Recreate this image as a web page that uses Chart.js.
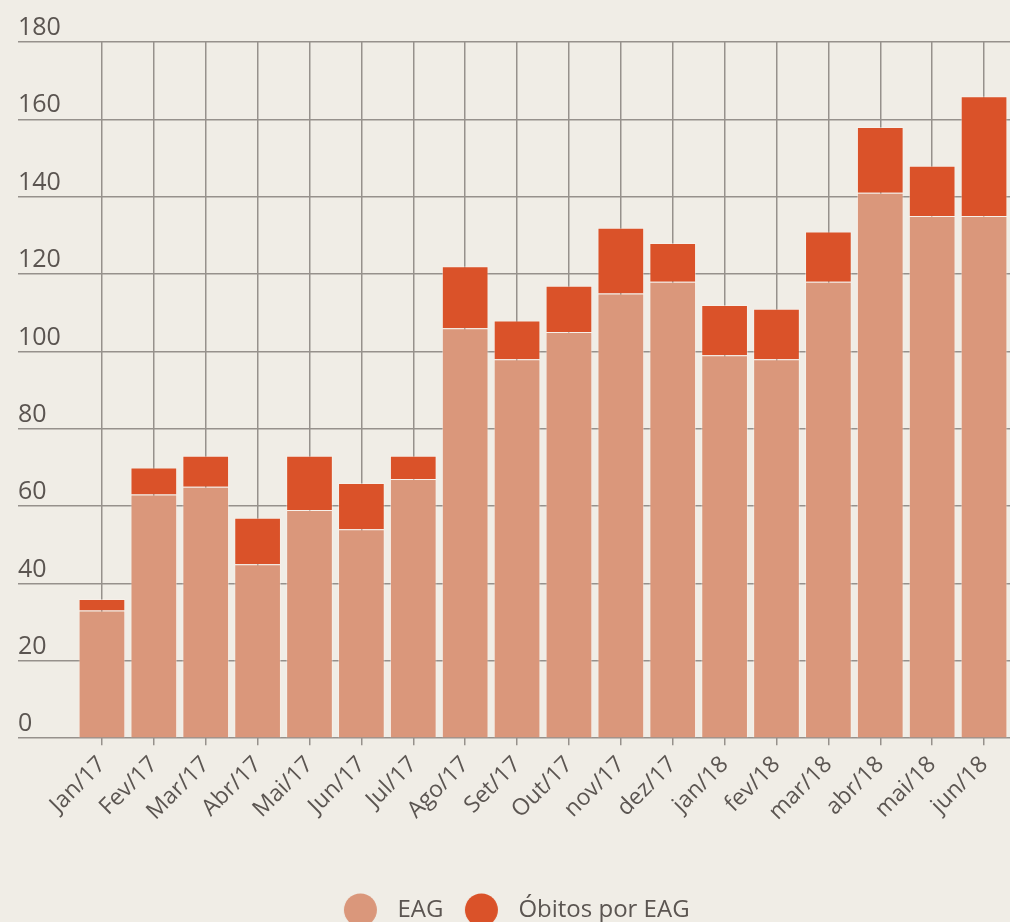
<!DOCTYPE html>
<html>
<head>
<meta charset="utf-8">
<script src="https://cdn.jsdelivr.net/npm/chart.js@4.4.1/dist/chart.umd.min.js"></script>
<style>
    html, body { margin: 0; padding: 0; background: #f0ede6; }
    #wrap { width: 1010px; height: 922px; }
</style>
</head>
<body>
<div id="wrap"><canvas id="eag-chart"></canvas></div>
<script>
const meses = ['Jan/17', 'Fev/17', 'Mar/17', 'Abr/17', 'Mai/17', 'Jun/17', 'Jul/17', 'Ago/17', 'Set/17',
    'Out/17', 'nov/17', 'dez/17', 'jan/18', 'fev/18', 'mar/18', 'abr/18', 'mai/18', 'jun/18'];
const eag = [33, 63, 65, 45, 59, 54, 67, 106, 98, 105, 115, 118, 99, 98, 118, 141, 135, 135];
const obitos = [3, 7, 8, 12, 14, 12, 6, 16, 10, 12, 17, 10, 13, 13, 13, 17, 13, 31];

const corEag = '#da977b';
const corObitos = '#da5229';
const corTexto = '#5b5551';
const corGrade = '#96918c';
const fonte = 'Open Sans';

// bolinha da legenda (desenhada num canvas pequeno, um pouco deslocada p/ esquerda)
function bolinha(cor) {
    const c = document.createElement('canvas');
    c.width = 44;
    c.height = 34;
    const g = c.getContext('2d');
    g.fillStyle = cor;
    g.beginPath();
    g.arc(17.5, 17, 16.5, 0, Math.PI * 2);
    g.fill();
    return c;
}
const bolinhas = [bolinha(corEag), bolinha(corObitos)];

window.eagChart = new Chart(
    document.getElementById('eag-chart'),
    {
        type: 'bar',
        data: {
            labels: meses,
            datasets: [{
                label: 'EAG',
                data: eag,
                backgroundColor: corEag,
                borderColor: 'rgba(255, 245, 238, 0.45)',
                borderWidth: 1,
            }, {
                label: 'Óbitos por EAG',
                data: obitos,
                backgroundColor: corObitos,
                borderColor: 'rgba(255, 245, 238, 0.45)',
                borderWidth: 1,
            }]
        },
        options: {
            responsive: true,
            maintainAspectRatio: false,
            animation: false,
            barPercentage: 0.9,
            categoryPercentage: 1,
            layout: {
                padding: { top: 42, left: 18, right: -6, bottom: -10 }
            },
            plugins: {
                tooltip: { enabled: false },
                legend: {
                    position: 'bottom',
                    labels: {
                        usePointStyle: true,
                        pointStyleWidth: 41,
                        boxHeight: 24,
                        padding: 22,
                        color: corTexto,
                        font: { size: 24, family: fonte },
                        generateLabels: (chart) =>
                            Chart.defaults.plugins.legend.labels.generateLabels(chart)
                                .map((item, i) => ({ ...item, pointStyle: bolinhas[i] })),
                    }
                },
            },
            scales: {
                x: {
                    stacked: true,
                    border: { display: false },
                    grid: {
                        offset: false, // linhas no centro das barras
                        color: corGrade,
                        lineWidth: 1.5,
                        tickLength: 7,
                    },
                    ticks: {
                        autoSkip: false,
                        maxRotation: 45,
                        minRotation: 45,
                        padding: 6,
                        color: corTexto,
                        font: { size: 23, family: fonte },
                    },
                    afterFit: (s) => {
                        s.paddingLeft = 0;
                        s.paddingRight = 0;
                        s.height += 44; // espaço livre até a legenda
                    },
                },
                y: {
                    stacked: true,
                    min: 0,
                    max: 180,
                    border: { display: false },
                    grid: {
                        color: corGrade,
                        lineWidth: 1.5,
                        tickLength: 58, // linha horizontal continua ate a margem
                    },
                    ticks: {
                        stepSize: 20,
                        mirror: true,
                        padding: -58,
                        labelOffset: -14,
                        color: corTexto,
                        font: { size: 25, family: fonte },
                    },
                    afterFit: (s) => {
                        s.paddingTop = 0;
                        s.paddingBottom = 0;
                        s.width = 58;
                    },
                }
            }
        },
    }
);
</script>
</body>
</html>
